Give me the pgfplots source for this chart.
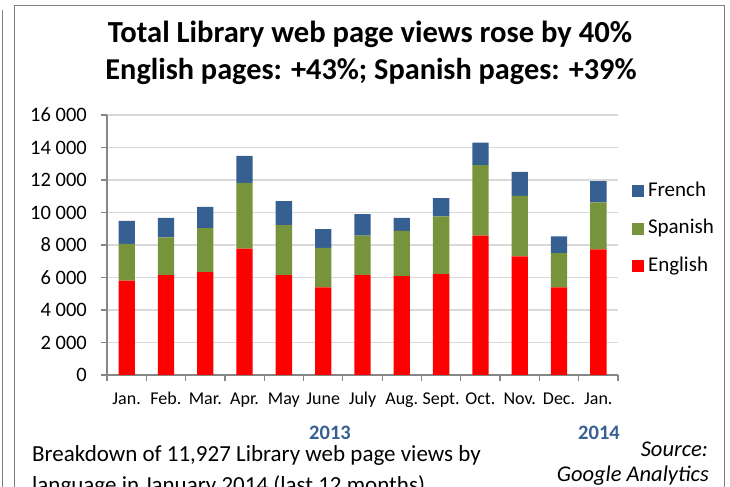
\documentclass[border=0pt]{standalone}
\usepackage{fontspec}
\setmainfont{Carlito}
\usepackage{pgfplots}
\pgfplotsset{compat=1.18}
\definecolor{frblue}{RGB}{55,96,146}
\definecolor{esgreen}{RGB}{119,147,60}
\definecolor{enred}{RGB}{255,0,0}
\definecolor{axgray}{RGB}{134,134,134}
\definecolor{grgray}{RGB}{217,217,217}
\definecolor{framegray}{RGB}{128,128,128}
\begin{document}
\begin{tikzpicture}
\path[use as bounding box] (0bp,0bp) rectangle (730bp,487bp);
\clip (0bp,0bp) rectangle (730bp,487bp);
\draw[framegray, line width=1bp] (14.5bp,-10bp) -- (14.5bp,481.5bp) -- (724.5bp,481.5bp) -- (724.5bp,-10bp);
\draw[framegray, line width=1bp] (2.5bp,477bp) -- (2.5bp,-10bp);
\begin{axis}[
  at={(107bp,112bp)}, anchor=south west,
  width=511bp, height=260bp, scale only axis,
  ybar stacked, bar width=16.3bp,
  xmin=-0.5, xmax=12.5, ymin=0, ymax=16000,
  scaled y ticks=false,
  axis lines*=left,
  axis line style={axgray, line width=1.3bp},
  ytick={0,2000,4000,6000,8000,10000,12000,14000,16000},
  yticklabels={0,2 000,4 000,6 000,8 000,10 000,12 000,14 000,16 000},
  xtick={0,...,12},
  xticklabels={Jan.,Feb.,Mar.,Apr.,May,June,July,Aug.,Sept.,Oct.,Nov.,Dec.,Jan.},
  minor xtick={-0.5,0.5,...,12.5},
  major x tick style={draw=none},
  minor x tick style={axgray, line width=1.2bp},
  major y tick style={axgray, line width=1.2bp},
  tick align=outside, major tick length=6bp, minor tick length=6bp,
  ymajorgrids, major grid style={grgray, line width=1.3bp},
  yticklabel style={font=\fontsize{20.5bp}{24bp}\selectfont, inner sep=0pt, xshift=-14bp},
  xticklabel style={font=\fontsize{18bp}{22bp}\selectfont, inner sep=0pt, anchor=base, yshift=-24bp},
  reverse legend,
  legend cell align=left,
  legend style={draw=none, fill=none, inner sep=0pt, outer sep=0pt,
    at={(1.0274,0.7423)}, anchor=north west,
    column sep=4bp, row sep=19.5bp,
    font=\fontsize{21bp}{24bp}\selectfont,
    nodes={inner sep=0pt, text height=14bp, text depth=4bp}},
  legend image code/.code={\fill[#1] (0bp,-6bp) rectangle (12bp,6bp);},
]
\addplot[fill=enred, draw=none] coordinates {(0,5800) (1,6150) (2,6330) (3,7770) (4,6150) (5,5390) (6,6150) (7,6090) (8,6210) (9,8570) (10,7300) (11,5390) (12,7730)};
\addplot[fill=esgreen, draw=none] coordinates {(0,2275) (1,2315) (2,2705) (3,4055) (4,3070) (5,2440) (6,2420) (7,2785) (8,3545) (9,4345) (10,3730) (11,2110) (12,2890)};
\addplot[fill=frblue, draw=none] coordinates {(0,1415) (1,1210) (2,1310) (3,1660) (4,1475) (5,1145) (6,1330) (7,800) (8,1125) (9,1390) (10,1475) (11,1025) (12,1307)};
\legend{English,Spanish,French}
\end{axis}
\node[anchor=base, inner sep=0pt, font=\fontsize{30.6bp}{34bp}\selectfont\bfseries] at (370bp,444bp) {Total Library web page views rose by 40\%};
\node[anchor=base, inner sep=0pt, font=\fontsize{30.3bp}{34bp}\selectfont\bfseries] at (371bp,407bp) {English pages: +43\%; Spanish pages: +39\%};
\node[anchor=base, inner sep=0pt, font=\fontsize{20.5bp}{24bp}\selectfont\bfseries, text=frblue] at (330bp,47bp) {2013};
\node[anchor=base, inner sep=0pt, font=\fontsize{20.5bp}{24bp}\selectfont\bfseries, text=frblue] at (599bp,47bp) {2014};
\node[anchor=base west, inner sep=0pt, font=\fontsize{23bp}{26bp}\selectfont] at (32bp,26bp) {Breakdown of 11,927 Library web page views by};
\node[anchor=base west, inner sep=0pt, font=\fontsize{23bp}{26bp}\selectfont] at (32bp,-5bp) {language in January 2014 (last 12 months)};
\node[anchor=base east, inner sep=0pt, font=\fontsize{22.5bp}{26bp}\selectfont\itshape] at (708bp,31bp) {Source:};
\node[anchor=base east, inner sep=0pt, font=\fontsize{22.5bp}{26bp}\selectfont\itshape] at (709bp,6bp) {Google Analytics};
\end{tikzpicture}
\end{document}
